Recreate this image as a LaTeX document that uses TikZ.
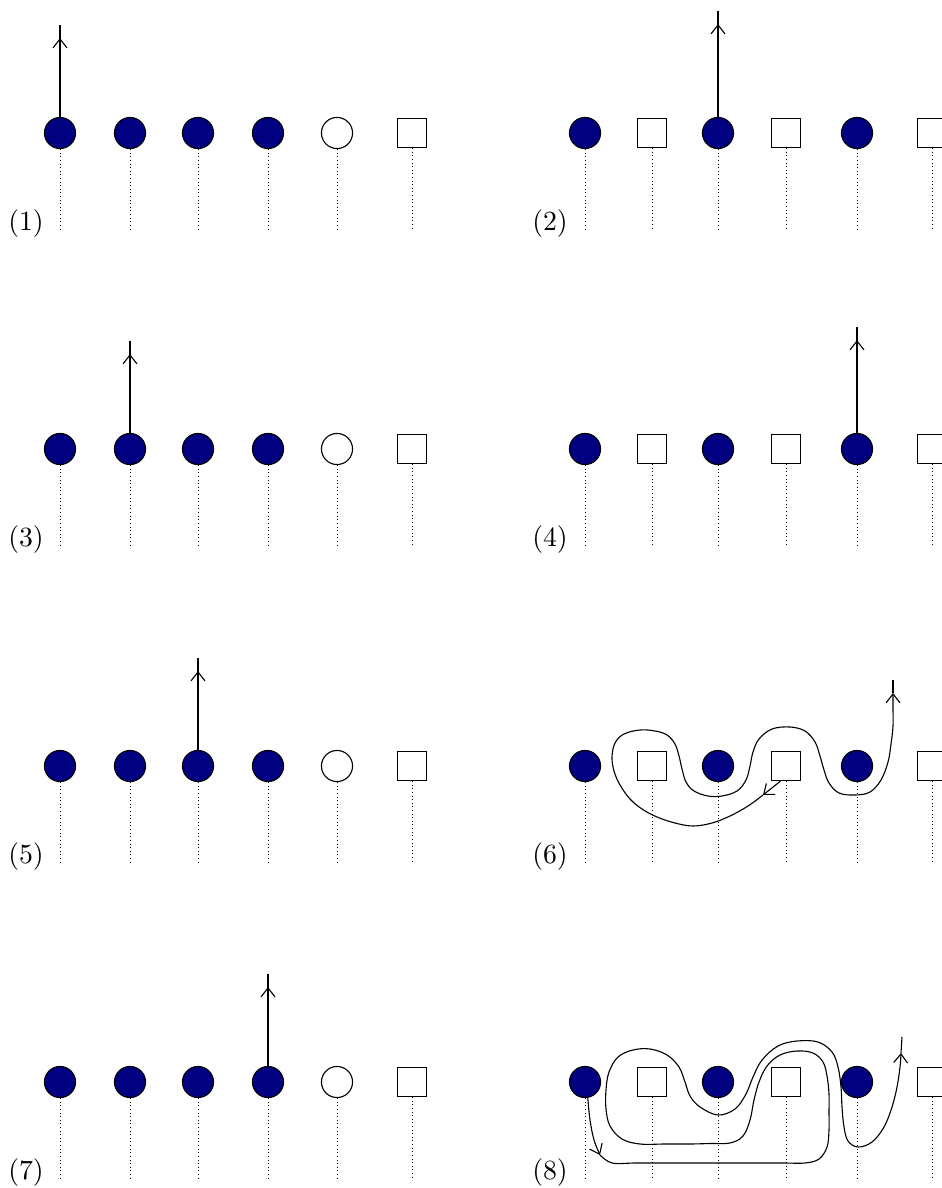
\documentclass[tikz,border=0pt]{standalone}
\usetikzlibrary{arrows.meta, decorations.markings}
\definecolor{navy}{RGB}{0,0,128}

\begin{document}
\begin{tikzpicture}[
    x=0.36pt, y=-0.36pt,
    >={Straight Barb[length=3.2pt, width=5pt]},
    full/.style={draw, circle, fill=navy, minimum size=11.2pt, inner sep=0pt},
    hole/.style={draw, circle, minimum size=11.2pt, inner sep=0pt},
    slot/.style={draw, rectangle, minimum size=10.5pt, inner sep=0pt},
    guide/.style={densely dotted, line width=0.3pt},
    tag/.style={inner sep=0pt},
    move/.style={postaction={decorate}, decoration={markings,
        mark=at position -4.7pt with {\arrow{>}}}},
]
\useasboundingbox (0,0) rectangle (942,1188);

\foreach \yy/\lab/\k in {133/1/1, 449/3/2, 766/5/3, 1082/7/4} {
  \begin{scope}[shift={(0,\yy)}]
    \foreach \i/\xx in {1/60, 2/130, 3/198, 4/268}
      \node[full] (p\lab n\i) at (\xx,0) {};
    \node[hole] (p\lab n5) at (337,0) {};
    \node[slot] (p\lab n6) at (412,0) {};
    \foreach \i in {1,...,6}
      \draw[guide] (p\lab n\i.south) -- (p\lab n\i.south |- 0,97);
    \node[tag] (p\lab tag) at (26,91) {(\lab)};
    \coordinate (p\lab top) at (p\lab n\k |- 0,-108);
    \draw[move] (p\lab n\k.north) -- (p\lab top);
  \end{scope}
}

\foreach \yy/\lab in {133/2, 449/4, 766/6, 1082/8} {
  \begin{scope}[shift={(0,\yy)}]
    \foreach \i/\xx in {1/585, 3/718, 5/857}
      \node[full] (p\lab n\i) at (\xx,0) {};
    \foreach \i/\xx in {2/652, 4/786, 6/932}
      \node[slot] (p\lab n\i) at (\xx,0) {};
    \foreach \i in {1,...,6}
      \draw[guide] (p\lab n\i.south) -- (p\lab n\i.south |- 0,97);
    \node[tag] (p\lab tag) at (550,91) {(\lab)};
  \end{scope}
}

\coordinate (p2top) at (718,11);
\draw[move] (p2n3.north) -- (p2top);
\coordinate (p4top) at (857,327);
\draw[move] (p4n5.north) -- (p4top);

\begin{scope}[shift={(0,766)}]
  \coordinate (p6a) at (763,29);
  \coordinate (p6b) at (893,-73);
  \coordinate (p6top) at (893,-86);
  \draw[->] (p6n4.250) -- (p6a);
  \draw[->] plot[smooth, tension=0.6] coordinates {
    (p6a) (748,40) (730,50) (712,57) (693,60) (675,57) (657,51) (642,43)
    (630,33) (620,19) (614,5) (612,-9) (615,-23) (624,-32) (640,-36)
    (655,-35) (667,-31) (675,-22) (679,-10) (682,3) (686,16) (694,25)
    (708,30) (722,30) (737,25) (746,14) (750,0) (753,-14) (759,-27)
    (772,-37) (790,-39) (805,-35) (815,-24) (820,-10) (824,4) (829,17)
    (839,27) (855,29) (870,26) (881,14) (888,-4) (891,-22) (893,-40)
    (893,-57) (p6b)};
  \draw (p6b) -- (p6top);
\end{scope}

\begin{scope}[shift={(0,1082)}]
  \coordinate (p8a) at (600,73);
  \coordinate (p8b) at (901,-29);
  \coordinate (p8top) at (902,-45);
  \draw[->] plot[smooth, tension=0.6] coordinates {
    (p8n1.-80) (590,38) (594,58) (p8a)};
  \draw[->] plot[smooth, tension=0.6] coordinates {
    (p8a) (612,81) (635,81) (660,81) (685,81) (710,81) (735,81) (760,81)
    (785,81) (805,81) (819,77) (827,65) (829,48) (829,30) (829,12)
    (827,-6) (823,-20) (813,-29) (797,-31) (780,-27) (767,-16) (759,0)
    (754,18) (750,38) (743,54) (730,61) (710,61.5) (690,62) (665,62)
    (640,62) (622,57) (610,44) (606,27) (606,8) (609,-10) (618,-25)
    (633,-32) (650,-33) (667,-27) (679,-15) (685,0) (690,14) (700,25)
    (718,33) (735,27) (746,12) (753,-5) (762,-22) (778,-36) (797,-41)
    (818,-40) (832,-30) (838,-15) (841,5) (842,25) (844,45) (848,59)
    (858,65) (872,60) (884,45) (892,25) (897,5) (900,-15) (p8b)};
  \draw (p8b) -- (p8top);
\end{scope}
\end{tikzpicture}
\end{document}
